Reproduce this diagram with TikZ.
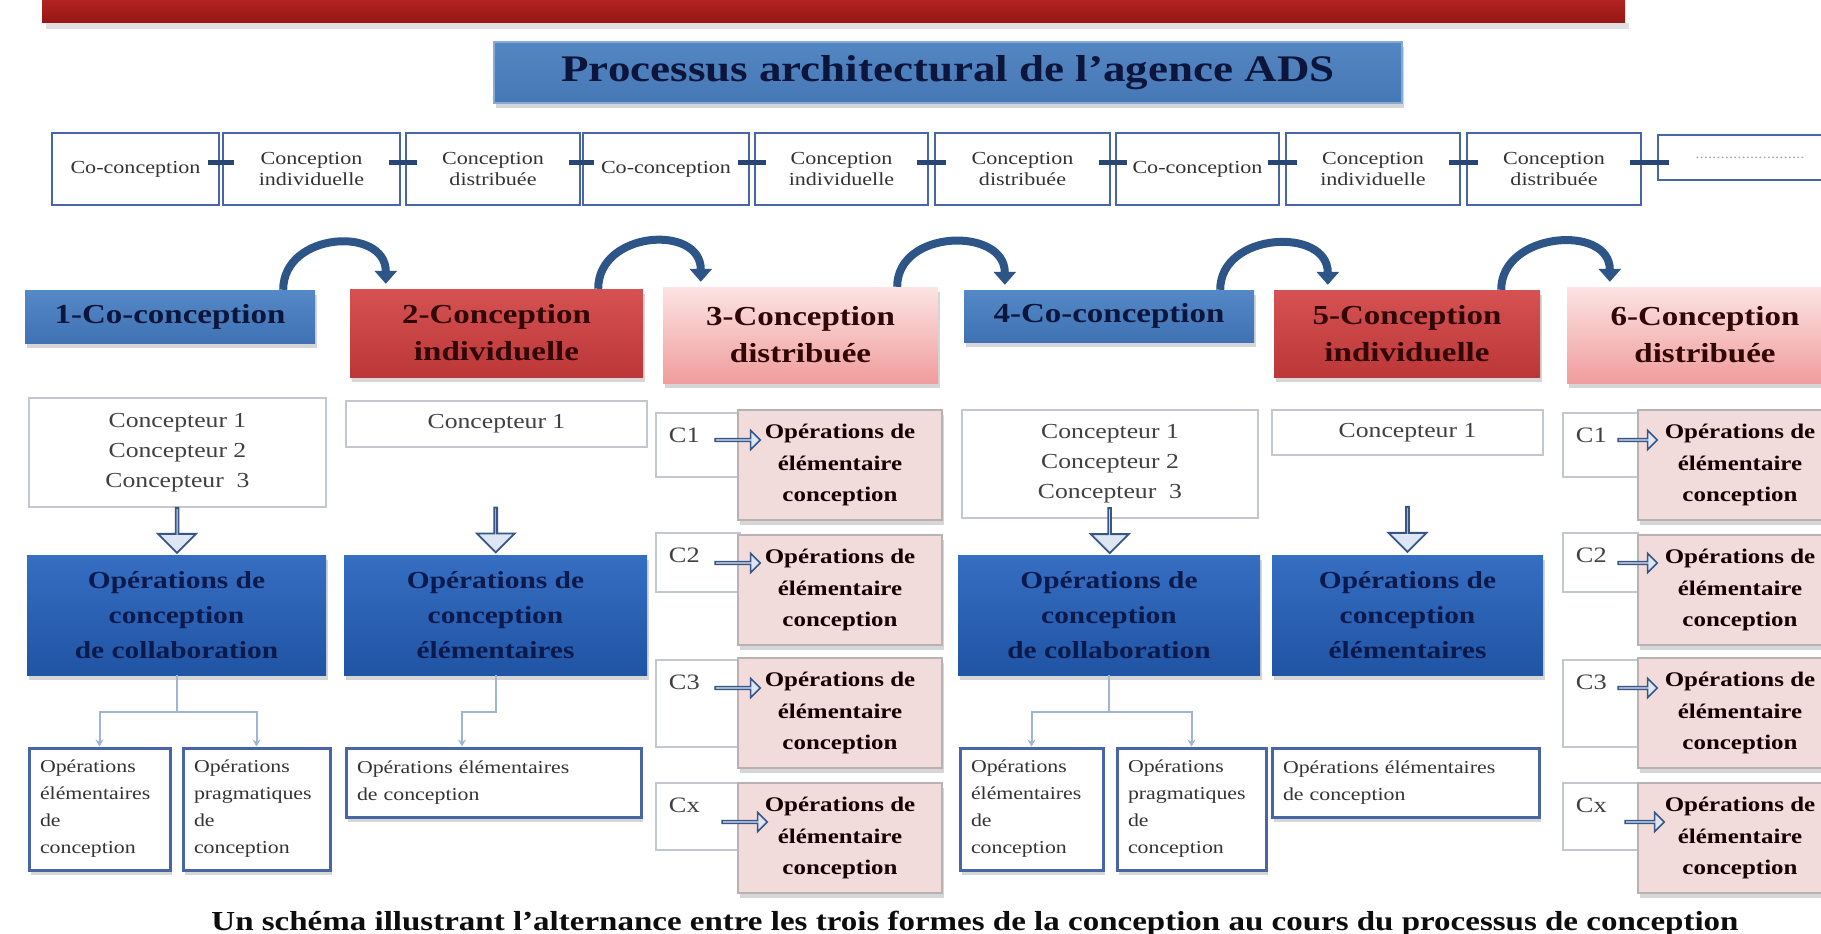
\documentclass[tikz,border=0pt]{standalone}
\usepackage{fontspec}
\setmainfont{Liberation Serif}[FakeStretch=1.2]
\usetikzlibrary{arrows.meta,shapes.arrows,shadows}

\definecolor{barred}{RGB}{190,40,40}
\definecolor{bardark}{RGB}{150,22,22}
\definecolor{titleblue}{RGB}{84,134,194}
\definecolor{titlebluelo}{RGB}{70,120,182}
\definecolor{navy}{RGB}{12,22,60}
\definecolor{headblue}{RGB}{84,136,198}
\definecolor{headbluelo}{RGB}{64,114,180}
\definecolor{headred}{RGB}{214,82,82}
\definecolor{headredlo}{RGB}{188,56,56}
\definecolor{maroon}{RGB}{48,6,6}
\definecolor{pinkhi}{RGB}{252,228,228}
\definecolor{pinklo}{RGB}{240,156,156}
\definecolor{opblue}{RGB}{54,110,194}
\definecolor{opbluelo}{RGB}{32,84,164}
\definecolor{optext}{RGB}{10,26,76}
\definecolor{pinkop}{RGB}{242,220,219}
\definecolor{pinkedge}{RGB}{185,178,180}
\definecolor{greyedge}{RGB}{195,200,208}
\definecolor{boxblue}{RGB}{72,102,165}
\definecolor{linkblue}{RGB}{40,70,115}
\definecolor{curveblue}{RGB}{45,85,135}
\definecolor{treeblue}{RGB}{160,180,212}
\definecolor{arrowedge}{RGB}{55,85,135}
\definecolor{arrowfill}{RGB}{222,230,244}

\begin{document}
\begin{tikzpicture}[x=1pt, y=-1pt,
	every node/.style={inner sep=0pt, align=center},
	boxshadow/.style={drop shadow={shadow xshift=2pt, shadow yshift=-5pt, fill=black!40, opacity=.4}},
	titlebox/.style={top color=titleblue, bottom color=titlebluelo, draw=titleblue!70!white, line width=2pt, minimum width=908pt, minimum height=61pt, font=\fontsize{37.5}{40}\selectfont\bfseries, text=navy, boxshadow},
	topbox/.style={draw=boxblue, line width=2.5pt, fill=white, minimum height=72pt, font=\fontsize{18.4}{21}\selectfont, text=black!80},
	link/.style={draw=linkblue, line width=5pt},
	head/.style={minimum height=#1, font=\fontsize{27.5}{37}\selectfont\bfseries, boxshadow},
	hblue/.style={top color=headblue, bottom color=headbluelo, text=navy},
	hred/.style={top color=headred, bottom color=headredlo, text=maroon},
	hpink/.style={top color=pinkhi, bottom color=pinklo, text=maroon},
	hop/.style={draw=curveblue, line width=8pt, -{Triangle[length=13pt,width=22pt]}},
	namebox/.style={draw=greyedge, line width=2.5pt, fill=white, font=\fontsize{21.4}{30}\selectfont, text=black!75},
	opbox/.style={top color=opblue, bottom color=opbluelo, minimum height=120pt, font=\fontsize{24.5}{35}\selectfont\bfseries, text=optext, boxshadow},
	downarrow/.style={single arrow, rotate=-90, draw=arrowedge, fill=arrowfill, line width=1.8pt, minimum height=45pt, minimum width=38pt, single arrow head extend=11.5pt},
	rarrow/.style={single arrow, draw=arrowedge, fill=arrowfill, line width=1.6pt, minimum height=#1, minimum width=19pt, single arrow head extend=5pt},
	smallbox/.style={draw=boxblue, line width=3pt, fill=white, font=\fontsize{18.2}{27}\selectfont, text=black!80, align=left, boxshadow},
	tree/.style={draw=treeblue, line width=2pt, -{Stealth[length=7pt,width=8pt]}},
	cbox/.style={draw=greyedge, line width=2.5pt, fill=white},
	clabel/.style={font=\fontsize{22}{26}\selectfont, text=black!75},
	pinkbox/.style={fill=pinkop, draw=pinkedge, line width=2pt, minimum width=204pt, minimum height=110pt, font=\fontsize{20.8}{31.7}\selectfont\bfseries, text=black!90!red, boxshadow},
	caption/.style={font=\fontsize{27.5}{30}\selectfont\bfseries, text=black!95}]
	\useasboundingbox (0,0) rectangle (1821,934);
	\fill[white] (0,0) rectangle (1821,934);
	\shade[top color=barred, bottom color=bardark] (42,-10) rectangle (1625,23);
	\fill[black!12] (46,23) rectangle (1629,29);
	\node[titlebox] (title) at (948,72.5) {Processus architectural de l'agence ADS};
	\foreach \cx/\w/\txt [count=\i] in {135.5/167/Co-conception, 311.5/177/{Conception\\individuelle}, 493/174/{Conception\\distribuée}, 666/166/Co-conception, 841.5/173/{Conception\\individuelle}, 1022.5/175/{Conception\\distribuée}, 1197.5/163/Co-conception, 1373/174/{Conception\\individuelle}, 1554/174/{Conception\\distribuée}}
		\node[topbox, minimum width=\w pt] (b\i) at (\cx,169) {\txt};
	\node[topbox, minimum width=184pt, minimum height=45pt, font=\fontsize{14}{16}\selectfont, text=black!35] (b10) at (1750,157.5) {..........................};
	\foreach \i [evaluate=\i as \j using int(\i+1)] in {1,...,8}
		\draw[link] ([shift={(-12,-7)}]b\i.east) -- ([shift={(12,-7)}]b\j.west);
	\draw[link] ([shift={(-12,-7)}]b9.east) -- ([shift={(12,4.5)}]b10.west);
	\node[head=53pt, hblue, minimum width=290pt] (h1) at (170,316.5) {1-Co-conception};
	\node[head=88pt, hred, minimum width=293pt] (h2) at (496.5,333) {2-Conception\\individuelle};
	\node[head=96pt, hpink, minimum width=275pt] (h3) at (800.5,335) {3-Conception\\distribuée};
	\node[head=52pt, hblue, minimum width=290pt] (h4) at (1109,316) {4-Co-conception};
	\node[head=87pt, hred, minimum width=266pt] (h5) at (1407,333.5) {5-Conception\\individuelle};
	\node[head=96pt, hpink, minimum width=276pt] (h6) at (1705,335) {6-Conception\\distribuée};
	\foreach \a/\b/\da/\db in {1/2/32/36, 2/3/45/38, 3/4/41/41, 4/5/34/54, 5/6/39/43}
		\draw[hop] ([xshift=-\da pt]h\a.north east) .. controls +(0,-58) and +(0,-58) .. ([shift={(\db,-5)}]h\b.north west);
	\node[namebox, minimum width=297pt, minimum height=109pt] (n1) at (177.5,452.5) {Concepteur 1\\Concepteur 2\\Concepteur~~3};
	\node[namebox, minimum width=301pt, minimum height=46pt] (n2) at (496.5,424) {Concepteur 1};
	\node[namebox, minimum width=296pt, minimum height=108pt] (n4) at (1110,464) {Concepteur 1\\Concepteur 2\\Concepteur~~3};
	\node[namebox, minimum width=271pt, minimum height=45pt] (n5) at (1407.5,432.5) {Concepteur 1};
	\node[opbox, minimum width=299pt] (o1) at (176.5,615) {Opérations de\\conception\\de collaboration};
	\node[opbox, minimum width=303pt] (o2) at (495.5,615) {Opérations de\\conception\\élémentaires};
	\node[opbox, minimum width=302pt] (o4) at (1109,615) {Opérations de\\conception\\de collaboration};
	\node[opbox, minimum width=271pt] (o5) at (1407.5,615) {Opérations de\\conception\\élémentaires};
	\path (n1.south) -- (o1.north) node[pos=.46, downarrow] (d1) {};
	\path (n2.south) -- (o2.north) node[pos=.76, downarrow] (d2) {};
	\path (n4.south) -- (o4.north) node[pos=.3, downarrow] (d4) {};
	\path (n5.south) -- (o5.north) node[pos=.735, downarrow] (d5) {};
	\node[smallbox, minimum width=141pt, minimum height=122pt, text width=119pt] (s1a) at (99.5,809) {Opérations\\élémentaires\\de\\conception};
	\node[smallbox, minimum width=147pt, minimum height=122pt, text width=125pt] (s1b) at (256.5,809) {Opérations\\pragmatiques\\de\\conception};
	\node[smallbox, minimum width=295pt, minimum height=69pt, text width=273pt] (s2) at (493.5,782.5) {Opérations élémentaires\\de conception};
	\node[smallbox, minimum width=143pt, minimum height=122pt, text width=121pt] (s4a) at (1031.5,809) {Opérations\\élémentaires\\de\\conception};
	\node[smallbox, minimum width=149pt, minimum height=122pt, text width=127pt] (s4b) at (1191.5,809) {Opérations\\pragmatiques\\de\\conception};
	\node[smallbox, minimum width=267pt, minimum height=69pt, text width=245pt] (s5) at (1405.5,782.5) {Opérations élémentaires\\de conception};
	\draw[tree] (o1.south) -- ++(0,37) -| (s1a.north);
	\draw[tree] (o1.south) -- ++(0,37) -| (s1b.north);
	\draw[tree] (o2.south) -- ++(0,37) -| ([xshift=-31.5pt]s2.north);
	\draw[tree] (o4.south) -- ++(0,37) -| (s4a.north);
	\draw[tree] (o4.south) -- ++(0,37) -| (s4b.north);
	\foreach \c/\cx/\cw/\px/\al in {3/698/84/840/45, 6/1600.5/75/1740/39}
		\foreach \r/\cy/\ch/\py/\lab/\ax/\ay in {1/445/64/465/C1/0/25, 2/562.5/59/590/C2/0/27, 3/703.5/87/713/C3/0/25, 4/816.5/67/838/Cx/7/16} {
			\node[cbox, minimum width=\cw pt, minimum height=\ch pt] (c\c\r) at (\cx,\cy) {};
			\node[clabel, anchor=west] (l\c\r) at ([shift={(14,24)}]c\c\r.north west) {\lab};
			\node[pinkbox] (p\c\r) at (\px,\py) {Opérations de\\élémentaire\\conception};
			\node[rarrow=\al pt] (r\c\r) at ([shift={(\ax,-\ay)}]p\c\r.west) {};
		}
	\node[caption, anchor=base] (cap) at (975,930) {Un schéma illustrant l'alternance entre les trois formes de la conception au cours du processus de conception};
\end{tikzpicture}
\end{document}
